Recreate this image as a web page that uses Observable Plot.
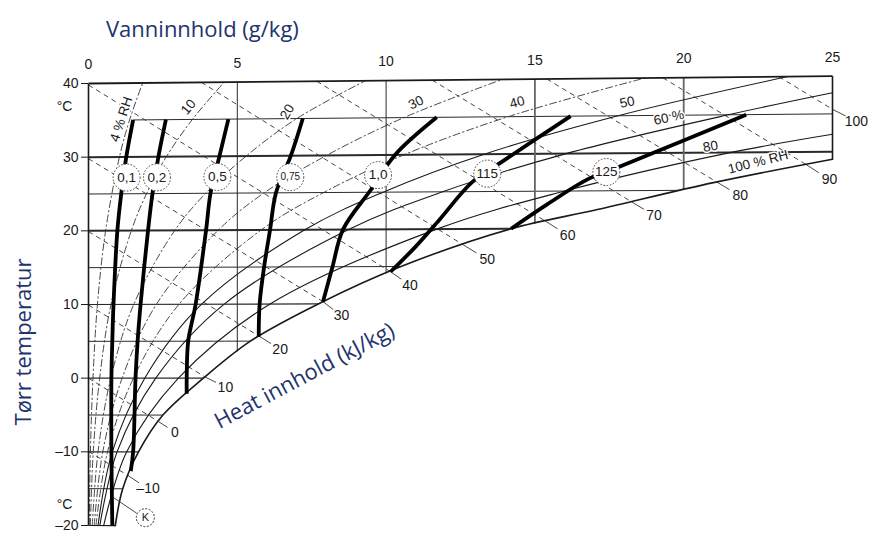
<!DOCTYPE html>
<html><head><meta charset="utf-8">
<script src="https://cdn.jsdelivr.net/npm/d3@7"></script>
<script src="https://cdn.jsdelivr.net/npm/@observablehq/plot@0.6"></script>
<style>
body{margin:0;background:#fff;}
#wrap{position:relative;width:870px;height:534px;overflow:hidden;}
.t{position:absolute;font-family:"Open Sans",sans-serif;color:#22336e;white-space:nowrap;line-height:1;}
</style></head><body>
<div id="wrap">
<div class="t" style="left:106px;top:17px;font-size:22px;">Vanninnhold (g/kg)</div>
<div class="t" style="left:22px;top:342px;font-size:22px;transform:translate(-50%,-50%) rotate(-90deg);">Tørr temperatur</div>
</div>
<script>
// ---- data (x = water content g/kg, t = dry temperature °C) ----
const xTicks = [0, 5, 10, 15, 20, 25];
const yTicks = [-20, -10, 0, 10, 20, 30, 40];

// saturation curve (100 % RH)
const satCurve = [[0.9,-20],[1.15,-15],[1.68,-10],[2.5,-5],[3.86,0],[5.44,5],[7.72,10],[10.5,15],[14.2,20],[17.1,22.5],[21.0,26],[25.0,29]];

// isotherms: temperature, start x, end x
const isoT     = [35, 30, 25, 20, 15, 10, 5, 0, -5, -10, -15];
const isoStart = [1.5, 0, 0, 0, 0, 0, 0, 0, 0, 0, 0];
const isoEnd   = [25, 25, 19.9, 14.2, 10.5, 7.72, 5.44, 3.86, 2.5, 1.68, 1.15];
const isoWidth = [1, 2, 1, 2, 1, 1.2, 1, 1.2, 1, 1.2, 1];

// vertical grid: water content and lower temperature
const vX    = [5, 10, 15, 20];
const vLowT = [3.6, 14.1, 20.7, 25.1];

// relative humidity curves
const rh4  = [[0.025,-20],[0.064,-10],[0.15,0],[0.30,10],[0.575,20],[1.04,30],[1.38,35],[1.82,40]];
const rh10 = [[0.063,-20],[0.16,-10],[0.375,0],[0.755,10],[1.44,20],[1.95,25],[2.62,30],[3.49,35],[4.56,40]];
const rh20 = [[0.127,-20],[0.32,-10],[0.75,0],[1.52,10],[2.9,20],[3.94,25],[5.3,30],[7.0,35],[9.3,40]];
const rh30 = [[0.19,-20],[0.48,-10],[1.13,0],[2.28,10],[4.36,20],[5.9,25],[8.0,30],[10.6,35],[13.9,40]];
const rh40 = [[0.25,-20],[0.64,-10],[1.51,0],[3.04,10],[5.8,20],[7.9,25],[10.6,30],[14.1,35],[18.7,40]];
const rh50 = [[0.32,-20],[0.8,-10],[1.89,0],[3.8,10],[7.27,20],[9.9,25],[13.3,30],[17.8,35],[23.5,40]];
const rh60 = [[0.38,-20],[0.96,-10],[2.26,0],[4.56,10],[8.74,20],[11.9,25],[16.05,30],[21.5,35],[25,37.8]];
const rh80 = [[0.51,-20],[1.28,-10],[3.02,0],[6.1,10],[11.7,20],[16.0,25],[21.6,30],[25,32.3]];

const rhLabels = ["4 % RH", "10", "20", "30", "40", "50", "60 %", "80", "100 % RH"];
const rhLabX   = [1.1, 3.36, 6.68, 11.0, 14.4, 18.1, 19.5, 20.9, 22.5];
const rhLabT   = [35.1, 36.7, 35.9, 37.0, 36.9, 36.8, 34.7, 30.8, 28.7];
const rhLabRot = [-72, -50, -60, -25, -15, -12, -12, -10, -14];

// heat content (enthalpy) lines, kJ/kg
const hVals   = [-10, 0, 10, 20, 30, 40, 50, 60, 70, 80, 90, 100];
const hStartX = [0, 0, 0, 0, 0, 0, 3.79, 7.67, 11.55, 15.4, 19.3, 23.2];
const hStartT = [-9.94, 0, 9.94, 19.9, 29.8, 39.8, 40, 40, 40, 40, 40, 40];
const hEndX   = [1.33, 2.36, 3.9, 5.76, 7.88, 10.15, 12.6, 15.35, 18.25, 21.1, 24.1, 25];
const hEndT   = [-13.2, -5.9, 0.2, 5.6, 10.3, 14.3, 17.85, 21, 23.5, 26.1, 28.35, 35.6];
const hLabX   = [2.0, 2.9, 4.6, 6.44, 8.5, 10.8, 13.4, 16.1, 19.0, 21.9, 24.9, 25.8];
const hLabT   = [-15.0, -7.3, -1.2, 3.9, 8.4, 12.5, 15.9, 19.1, 21.7, 24.2, 26.3, 34.0];

// thick process lines
const flow01  = [[1.5,35],[1.27,30],[1.1,25],[0.97,20],[0.84,10],[0.8,5],[0.77,0],[0.77,-10],[0.8,-20]];
const flow02  = [[2.6,35],[2.35,30],[2.15,25],[2.0,20],[1.75,10],[1.65,5],[1.58,0],[1.5,-10],[1.42,-12.6]];
const flow05  = [[4.7,35],[4.4,30],[4.1,25],[3.95,20],[3.6,10],[3.35,5],[3.3,0],[3.3,-2.1]];
const flow075 = [[7.2,35],[6.8,30],[6.3,25],[6.1,20],[5.9,15],[5.75,10],[5.72,5.6]];
const flow10  = [[11.7,35],[10.3,30],[9.5,25.4],[8.55,20],[8.2,15],[7.88,10.3]];
const flow115 = [[16.2,35],[13.9,29],[12.9,26.3],[11.8,21.3],[11.0,17.7],[10.15,14.3]];
const flow125 = [[22.1,35],[17.9,28.3],[16.8,26.6],[15.4,23.2],[14.2,20]];

const circLabels = ["0,1", "0,2", "0,5", "0,75", "1,0", "115", "125"];
const circX      = [1.28, 2.3, 4.33, 6.78, 9.73, 13.4, 17.4];
const circT      = [27.2, 27.2, 27.2, 27.1, 27.3, 27.4, 27.5];

const kPoint = [1.91, -18.9];
const kLeader = [[0.84, -16.2], [1.62, -18.3]];
const degLabels = [["°C", 36.9], ["°C", -17.1]];
const heatLabel = {text: "Heat innhold (kJ/kg)", x: 7.26, t: 0.3};

// ---- helpers ----
const K = 0.001; // slight tilt of the isotherms
const sy = (x, t) => t * (1 + K * x);
const PX = d => d[0], PY = d => sy(d[0], d[1]);
const idx = n => d3.range(n);
const ink = "#1a1a1a", navy = "#22336e";

const rhDash = [rh4, rh10, rh20, rh30, rh40];
const rhSolid = [rh50, rh60, rh80];
const flows = [flow01, flow02, flow05, flow075, flow10, flow115, flow125];

const marks = [];
// isotherms
marks.push(Plot.link(idx(isoT.length), {
  x1: i => isoStart[i], y1: i => sy(isoStart[i], isoT[i]),
  x2: i => isoEnd[i], y2: i => sy(isoEnd[i], isoT[i]),
  stroke: "#2a2a2a", strokeWidth: i => isoWidth[i]
}));
// verticals
marks.push(Plot.link(idx(vX.length), {
  x1: i => vX[i], y1: i => sy(vX[i], 40), x2: i => vX[i], y2: i => sy(vX[i], vLowT[i]),
  stroke: i => vX[i] >= 15 ? "#666" : "#2a2a2a", strokeWidth: i => vX[i] >= 15 ? 1.8 : 1
}));
// enthalpy lines
marks.push(Plot.link(idx(hVals.length), {
  x1: i => hStartX[i], y1: i => sy(hStartX[i], hStartT[i]),
  x2: i => hEndX[i], y2: i => sy(hEndX[i], hEndT[i]),
  stroke: "#333", strokeWidth: 0.9, strokeDasharray: "5,4"
}));
// leaders from saturation to enthalpy labels
marks.push(Plot.link(idx(hVals.length), {
  x1: i => hEndX[i], y1: i => sy(hEndX[i], hEndT[i]),
  x2: i => hEndX[i] + 0.55 * (hLabX[i] - hEndX[i]), y2: i => sy(hEndX[i] + 0.55 * (hLabX[i] - hEndX[i]), hEndT[i] + 0.55 * (hLabT[i] - hEndT[i])),
  stroke: "#333", strokeWidth: 0.9
}));
// RH curves
for (const c of rhDash) marks.push(Plot.line(c, {x: PX, y: PY, curve: "catmull-rom", stroke: "#333", strokeWidth: 0.9, strokeDasharray: "7,3,1.5,3"}));
for (const c of rhSolid) marks.push(Plot.line(c, {x: PX, y: PY, curve: "catmull-rom", stroke: ink, strokeWidth: 1.1}));
// frame
marks.push(Plot.link([0], {x1: 0, y1: -20, x2: 0, y2: 40, stroke: ink, strokeWidth: 1.6}));
marks.push(Plot.link([0], {x1: 0, y1: sy(0, 40), x2: 25, y2: sy(25, 40), stroke: ink, strokeWidth: 1.8}));
marks.push(Plot.link([0], {x1: 25, y1: sy(25, 40), x2: 25, y2: sy(25, 29), stroke: ink, strokeWidth: 1.6}));
marks.push(Plot.link([0], {x1: 0, y1: -20, x2: 0.9, y2: sy(0.9, -20), stroke: ink, strokeWidth: 1.2}));
marks.push(Plot.line(satCurve, {x: PX, y: PY, curve: "catmull-rom", stroke: ink, strokeWidth: 1.6}));
// thick process lines
for (const f of flows) marks.push(Plot.line(f, {x: PX, y: PY, curve: "catmull-rom", stroke: "#000", strokeWidth: 3.8, strokeLinecap: "butt"}));
// circles
marks.push(Plot.dot(idx(circX.length), {x: i => circX[i], y: i => sy(circX[i], circT[i]), r: 13.5, fill: "white", stroke: "#444", strokeWidth: 1, strokeDasharray: "1.6,1.6"}));
marks.push(Plot.text(idx(circX.length), {x: i => circX[i], y: i => sy(circX[i], circT[i]), text: i => circLabels[i], fontSize: i => circLabels[i].length > 3 ? 10 : 13.5, fill: ink}));
// RH labels
marks.push(Plot.text(idx(rhLabels.length), {x: i => rhLabX[i], y: i => sy(rhLabX[i], rhLabT[i]), text: i => rhLabels[i], rotate: i => rhLabRot[i], fontSize: 13.5, fill: ink, stroke: "white", strokeWidth: 3}));
// enthalpy labels
marks.push(Plot.text(idx(hVals.length), {x: i => hLabX[i], y: i => sy(hLabX[i], hLabT[i]), text: i => hVals[i] < 0 ? "–" + Math.abs(hVals[i]) : String(hVals[i]), fontSize: 14, fill: ink}));
// K marker
marks.push(Plot.link([kLeader], {x1: d => d[0][0], y1: d => sy(d[0][0], d[0][1]), x2: d => d[1][0], y2: d => sy(d[1][0], d[1][1]), stroke: "#333", strokeWidth: 0.9}));
marks.push(Plot.dot([kPoint], {x: PX, y: PY, r: 9, fill: "white", stroke: "#333", strokeWidth: 1, strokeDasharray: "2,1.5"}));
marks.push(Plot.text([kPoint], {x: PX, y: PY, text: () => "K", fontSize: 11, fill: ink}));
// axes
marks.push(Plot.axisY(yTicks, {anchor: "left", tickSize: 7, tickPadding: 3, tickFormat: d => d < 0 ? "–" + Math.abs(d) : String(d), fontSize: 14, stroke: ink, fill: ink}));
marks.push(Plot.text(xTicks, {x: d => d, y: d => sy(d, 40), dy: -19, text: d => String(d), fontSize: 14, fill: ink}));
marks.push(Plot.text(degLabels, {x: 0, y: d => d[1], text: d => d[0], dx: -24, fontSize: 14, fill: ink}));
// heat content title
marks.push(Plot.text([heatLabel], {x: d => d.x, y: d => sy(d.x, d.t), text: d => d.text, rotate: -28, fontSize: 22, fill: navy, fontFamily: "Open Sans"}));

const chart = Plot.plot({
  width: 870, height: 534,
  marginLeft: 88, marginRight: 38, marginTop: 83, marginBottom: 9,
  x: {domain: [0, 25], axis: null},
  y: {domain: [-20, 40], axis: null},
  style: {fontFamily: "'Liberation Sans', Arial, sans-serif", background: "white", overflow: "visible"},
  marks
});
chart.style.position = "absolute";
chart.style.left = "0px";
chart.style.top = "0px";
const wrap = document.getElementById("wrap");
wrap.insertBefore(chart, wrap.firstChild);
</script>
</body></html>
